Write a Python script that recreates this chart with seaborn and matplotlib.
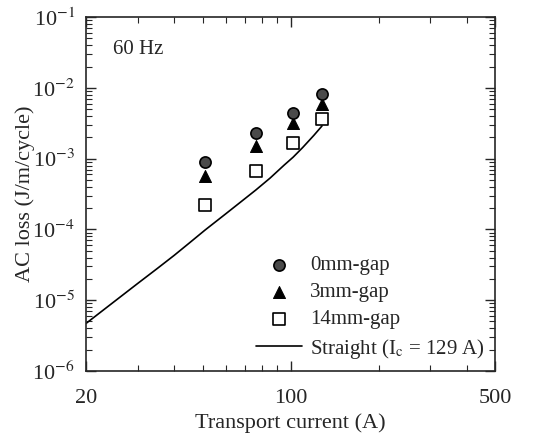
import numpy as np
import pandas as pd
import matplotlib
matplotlib.use("Agg")
import matplotlib.pyplot as plt
import seaborn as sns
from matplotlib.ticker import FixedLocator, FixedFormatter, NullFormatter, LogLocator

# ---- data ----
current = [51, 76, 102, 128]
loss_0mm = [9.0e-4, 2.28e-3, 4.45e-3, 8.1e-3]
loss_3mm = [5.7e-4, 1.5e-3, 3.15e-3, 5.9e-3]
loss_14mm = [2.2e-4, 6.8e-4, 1.68e-3, 3.6e-3]

straight_i = [20, 25, 30, 35, 40, 45, 51, 60, 68, 76, 85, 95, 102, 110, 120, 128]
straight_loss = [4.7e-6, 9.6e-6, 1.72e-5, 2.8e-5, 4.3e-5, 6.4e-5, 9.8e-5, 1.66e-4,
                 2.5e-4, 3.6e-4, 5.3e-4, 8.1e-4, 1.05e-3, 1.44e-3, 2.13e-3, 2.9e-3]

sns.set_style("ticks")
plt.rcParams["font.family"] = ["Liberation Serif", "DejaVu Serif"]
plt.rcParams["mathtext.fontset"] = "stix"

fig = plt.figure(figsize=(5.52, 4.4), dpi=100)
ax = fig.add_axes([0.156, 0.157, 0.741, 0.804])

sns.scatterplot(x=current, y=loss_0mm, marker="o", s=65, color="#4a4a4a",
                edgecolor="black", linewidth=1.2, ax=ax, label="0mm-gap", zorder=4)
sns.scatterplot(x=current, y=loss_3mm, marker="^", s=75, color="black",
                edgecolor="black", ax=ax, label="3mm-gap", zorder=3)
sns.scatterplot(x=current, y=loss_14mm, marker="s", s=65, color="white",
                edgecolor="black", linewidth=1.2, ax=ax, label="14mm-gap", zorder=3)
sns.lineplot(x=straight_i, y=straight_loss, color="black", linewidth=1.2, ax=ax,
             label="Straight (I$_\\mathrm{c}$ = 129 A)", zorder=2)

ax.set_xscale("log")
ax.set_yscale("log")
ax.set_xlim(20, 500)
ax.set_ylim(1e-6, 1e-1)

ax.xaxis.set_major_locator(FixedLocator([20, 100, 500]))
ax.xaxis.set_major_formatter(FixedFormatter(["20", "100", "500"]))
ax.xaxis.set_minor_locator(LogLocator(base=10, subs=np.arange(2, 10)))
ax.xaxis.set_minor_formatter(NullFormatter())
ax.yaxis.set_minor_locator(LogLocator(base=10, subs=np.arange(2, 10), numticks=10))
ax.yaxis.set_minor_formatter(NullFormatter())
ax.set_yticks([1e-6, 1e-5, 1e-4, 1e-3, 1e-2, 1e-1])
ax.set_yticklabels(["10$^{-6}$", "10$^{-5}$", "10$^{-4}$", "10$^{-3}$", "10$^{-2}$", "10$^{-1}$"])

ax.tick_params(which="both", direction="in", top=True, right=True, labelsize=16)
ax.tick_params(axis="y", pad=8)
ax.tick_params(axis="x", pad=13)
ax.tick_params(which="major", length=7, width=1)
ax.tick_params(which="minor", length=4, width=0.8)
for sp in ax.spines.values():
    sp.set_linewidth(1.2)

ax.set_xlabel("Transport current (A)", fontsize=16, labelpad=4)
ax.set_ylabel("AC loss (J/m/cycle)", fontsize=16, labelpad=-2)
ax.text(0.065, 0.895, "60 Hz", transform=ax.transAxes, fontsize=15)

ax.legend(loc="lower right", frameon=False, fontsize=15, handlelength=2.2,
          borderaxespad=0.1, labelspacing=0.35, handletextpad=0.4)

fig.savefig("out.png", dpi=100)
